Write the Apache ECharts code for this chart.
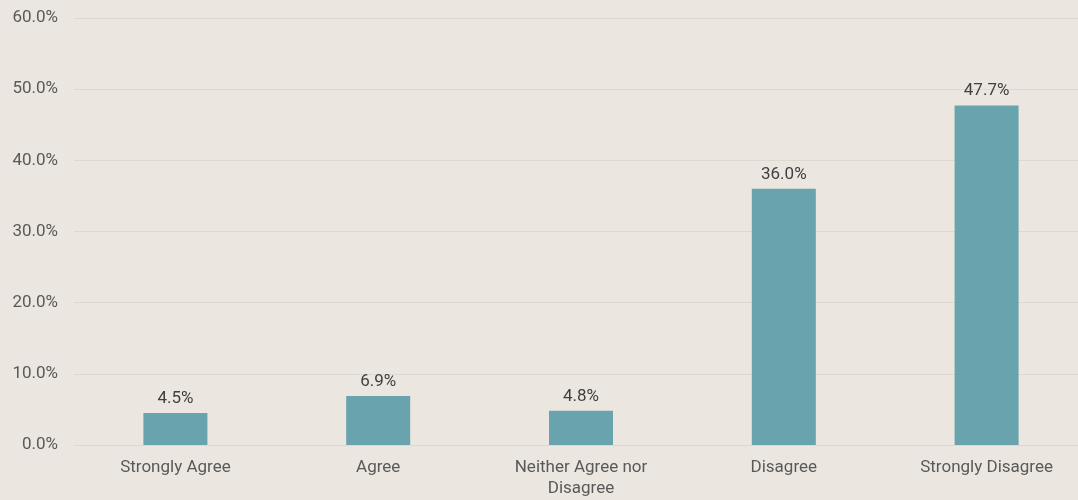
<!DOCTYPE html>
<html>
<head>
<meta charset="utf-8">
<script src="https://cdn.jsdelivr.net/npm/echarts@6/dist/echarts.min.js"></script>
<style>
  html, body { margin: 0; padding: 0; background: #ebe7e0; overflow: hidden; }
  /* plot area runs past the right edge in the original, so the canvas is a bit wider than the window */
  #chart { width: 1088px; height: 500px; }
</style>
</head>
<body>
<div id="chart"></div>
<script>
// Survey response shares (percent)
var categories = ['Strongly Agree', 'Agree', 'Neither Agree nor\nDisagree', 'Disagree', 'Strongly Disagree'];
var values = [4.5, 6.9, 4.8, 36.0, 47.7];
var yTicks = [0, 10, 20, 30, 40, 50, 60];

var textColor = '#595959';
var font = '"Roboto", sans-serif';

var chart = echarts.init(document.getElementById('chart'), null, { renderer: 'canvas' });
chart.setOption({
    animation: false,
    backgroundColor: '#ebe7e0',
    grid: { left: 74, top: 18, bottom: 55, right: 0, containLabel: false },
    xAxis: {
        type: 'category',
        data: categories,
        axisLine: { show: true, lineStyle: { color: '#ddd8d0' } },
        axisTick: { show: false },
        axisLabel: { color: textColor, fontFamily: font, fontSize: 17, lineHeight: 21, margin: 12 }
    },
    yAxis: {
        type: 'value',
        min: yTicks[0],
        max: yTicks[yTicks.length - 1],
        interval: 10,
        axisLine: { show: false },
        axisTick: { show: false },
        splitLine: { lineStyle: { color: '#ddd8d0', width: 1 } },
        axisLabel: {
            color: textColor, fontFamily: font, fontSize: 17, margin: 16,
            formatter: function(v) { return v.toFixed(1) + '%'; }
        }
    },
    series: [{
        type: 'bar',
        data: values,
        barWidth: 64,
        itemStyle: { color: '#68a3ae' },
        label: {
            show: true,
            position: 'top',
            distance: 6,
            color: '#404040',
            fontFamily: font,
            fontSize: 17,
            formatter: function(p) { return p.value.toFixed(1) + '%'; }
        }
    }]
});
</script>
</body>
</html>
